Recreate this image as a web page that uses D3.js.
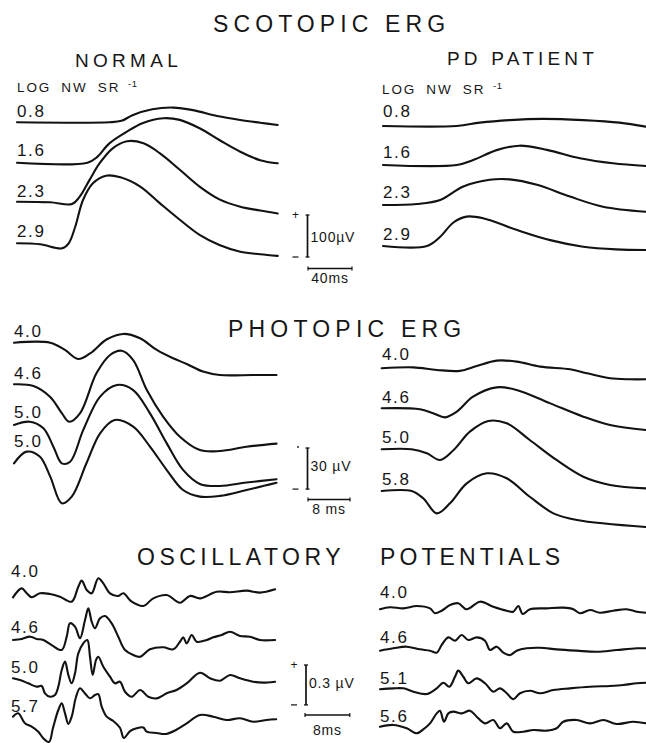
<!DOCTYPE html>
<html>
<head>
<meta charset="utf-8">
<script src="https://cdn.jsdelivr.net/npm/d3@7"></script>
<style>
  body { margin: 0; background: #fff; }
  svg { display: block; }
  text { font-family: "Liberation Sans", Arial, Helvetica, sans-serif; fill: #161616; }
</style>
</head>
<body>
<svg id="fig" width="646" height="743"></svg>
<script>
// ---------- stimulus levels (log nW sr^-1) ----------
const scotopicLevels = ["0.8", "1.6", "2.3", "2.9"];
const photopicLevelsNormal = ["4.0", "4.6", "5.0", "5.0"];
const photopicLevelsPD = ["4.0", "4.6", "5.0", "5.8"];
const oscLevelsNormal = ["4.0", "4.6", "5.0", "5.7"];
const oscLevelsPD = ["4.0", "4.6", "5.1", "5.6"];

// ---------- scotopic ERG, [time ms, amplitude µV] ----------
const scotopicNormal = [
  [[0,0],[84,0],[95,3.5],[105,17],[123,31],[142,35],[160,29],[182,15],[203,5.5],[221,-1],[237,-6.4]],
  [[0,0],[64,0],[73,14],[84,46],[100,74],[114,94],[133,106],[148,102],[166,82],[184,54],[203,26],[221,6],[237,-1.4]],
  [[0,0],[30,-1.4],[50,-5.5],[57,12],[66,52],[75,91],[87,127],[100,144],[115,139],[130,115],[148,76],[166,36],[184,5.5],[203,-12],[221,-21],[237,-28]],
  [[0,0],[21,-2.4],[41,-12],[47,0],[53,40],[60,103],[69,143],[81,161],[94,157],[112,135],[130,95],[148,56],[166,20],[184,-4],[203,-20],[221,-26],[237,-30]]
];
const scotopicPD = [
  [[0,0],[67,0],[88,8],[115,14],[145,17],[182,14],[215,8],[239,-1.6]],
  [[0,0],[67,0],[82,12],[104,36],[124,46],[149,36],[179,16],[209,4],[239,-2.4]],
  [[0,0],[31,2.4],[52,12],[73,44],[97,60],[115,61],[140,48],[170,20],[200,-4],[239,-16]],
  [[0,0],[40,0],[52,22],[64,56],[76,70],[91,66],[122,38],[152,14],[182,-1.6],[212,-8],[239,-9.5]]
];

// ---------- photopic ERG, [time ms, amplitude µV] ----------
const photopicNormal = [
  [[0,0],[6.9,0],[9.7,-5.3],[12.2,-11.9],[14.5,-7.8],[17.7,2.5],[20.8,6.4],[24,3.2],[27.2,-5.3],[30.3,-11.4],[32.9,-15.5],[36,-21.1],[39.2,-23.6],[45.5,-23.6],[50,-23.6]],
  [[0,0],[3.7,-1.2],[6.9,-9.2],[9.1,-21],[10.5,-27.3],[12.6,-21],[15.7,8],[18.3,21.4],[20.5,24.5],[22.7,17.7],[25.3,-4.2],[28.4,-23.6],[31.6,-38.3],[35.4,-48],[39.2,-48.7],[44.3,-45.6],[50,-43.3]],
  [[0,0],[3,2.4],[5.6,-2.4],[7.5,-15.8],[9.1,-28],[10.7,-26.8],[13.2,-3.6],[16.4,20.7],[19.6,29.2],[22.7,25.5],[25.9,8.5],[29.1,-13.4],[32.2,-32.8],[35.4,-43],[39.2,-44.5],[44.3,-42],[50,-39.6]],
  [[0,0],[2.4,8.5],[4.9,4.9],[6.9,-9.7],[9.1,-29.2],[11,-24.3],[13.8,0],[16.4,21.9],[19.2,31.6],[22.7,26.8],[25.9,12.2],[29.1,-4.9],[32.2,-19.5],[35.4,-24.3],[39.2,-23.8],[44.3,-19.5],[50,-14.2]]
];
const photopicPD = [
  [[0,0],[6,0.7],[10.5,-1.2],[14.9,-1.9],[18.1,1.7],[21.9,5.6],[25.7,4.9],[30.2,1.2],[35.9,-0.7],[39.1,-3.6],[43.5,-7.3],[47.3,-8],[50.3,-8]],
  [[0,0],[7.3,-0.7],[9.8,-3.6],[12.1,-6.6],[14.3,-2.5],[17.4,8.5],[21.9,15.3],[25.7,13.4],[32.1,3.6],[38.4,-6.1],[43.5,-12.2],[50.3,-15.8]],
  [[0,0],[5.7,0],[8.6,-2.9],[11.1,-7.8],[13.7,-0.5],[16.8,12.9],[20.3,20.7],[23.8,19],[28.2,6.8],[33.3,-7.8],[38.4,-20],[43.5,-26],[50.3,-28.5]],
  [[0,0],[5.7,0],[7.9,-5.3],[10.5,-16.3],[13,-9],[16.2,5.6],[20,12.9],[23.8,9.3],[28.2,-4.2],[32.7,-16.3],[37.2,-21.2],[50.3,-26.3]]
];

// ---------- oscillatory potentials, [time ms, amplitude µV] ----------
const oscNormal = [
  [[0,-0.006],[1.55,0.061],[2.45,0.024],[3.34,-0.006],[4.82,0.024],[6.61,0.019],[8.39,-0.002],[10.48,-0.039],[11.66,0.074],[12.27,0.119],[13.16,0.049],[14.05,0.024],[15.23,0.137],[16.13,0.099],[17.32,0.024],[18.8,0.004],[19.7,0.024],[21.2,-0.039],[23.27,-0.071],[25.05,-0.014],[27.45,0.011],[29.82,-0.047],[31.6,0.004],[33.4,-0.014],[36.38,0.036],[38.75,0.032],[41.73,0.044],[44.1,0.029],[46.8,0.054]],
  [[0,0],[1.55,0.008],[3.04,0.025],[4.23,0.008],[5.41,0],[6.91,-0.038],[8.7,-0.075],[9.59,0.025],[10.18,0.126],[11.07,0.1],[11.96,0.013],[12.86,0.15],[13.45,0.238],[14.05,0.138],[14.64,0.088],[15.54,0.163],[16.43,0.18],[17.63,0.125],[18.8,0.025],[20,-0.075],[21.48,-0.113],[22.68,-0.126],[24.46,-0.07],[26.84,-0.055],[28.63,-0.07],[29.82,-0.013],[30.41,0.02],[31.02,-0.025],[31.91,0.038],[32.8,-0.013],[34.6,0],[35.77,0.02],[37.27,0.038],[38.75,0.062],[40.54,0.03],[42.3,0.025],[44.1,0],[46.8,0]],
  [[0,0.013],[1.25,0],[2.73,-0.025],[4.23,-0.05],[5.13,-0.045],[5.71,-0.1],[6.61,-0.126],[7.5,-0.113],[8.09,-0.05],[8.7,0.075],[9.29,0.138],[9.88,0.038],[10.48,-0.025],[11.07,0.05],[11.66,0.2],[12.55,0.276],[13.27,0.3],[13.75,0.175],[14.23,0.038],[14.82,0.15],[15.23,0.175],[16.13,0.1],[17.32,0.025],[18.2,-0.025],[19.1,-0.013],[20,-0.088],[21.2,-0.126],[22.7,-0.075],[24.16,-0.126],[25.66,-0.138],[27.45,-0.1],[29.2,-0.075],[31.02,-0.025],[33.4,0.055],[35.2,0.013],[37,-0.005],[38.75,0.038],[40.54,0.013],[42.9,-0.013],[44.7,-0.02],[46.8,-0.013]],
  [[0,-0.005],[0.93,0.02],[2.14,-0.055],[3.34,-0.08],[4.52,-0.118],[5.36,-0.165],[6.43,-0.195],[7.14,-0.09],[8.09,0.045],[8.7,0.095],[9.29,0.02],[9.88,-0.06],[10.48,-0.005],[11.25,0.143],[11.96,0.208],[12.86,0.17],[13.75,0.133],[14.64,0.158],[15.23,0.165],[15.84,0.07],[16.73,-0.005],[17.91,-0.038],[19.1,-0.088],[19.8,-0.165],[20.9,-0.113],[22.09,-0.092],[23.27,-0.086],[23.88,-0.118],[25.66,-0.128],[27.3,-0.135],[29.1,-0.105],[31.02,-0.055],[33.4,0.008],[35.77,-0.005],[38.16,-0.03],[40.54,-0.017],[42.9,-0.043],[45.3,-0.03],[47,-0.025]]
];
const oscPD = [
  [[0,-0.002],[1.79,0.013],[4.16,0.005],[6.55,0.023],[8.93,0.005],[9.82,-0.032],[11.02,-0.013],[12.5,0.03],[13.98,0.043],[15.48,-0.002],[17.86,0.055],[20.23,0.017],[22.63,-0.013],[23.8,-0.02],[24.7,0.023],[25.48,-0.038],[26.79,-0.002],[29.77,0.005],[32.73,0.01],[34.52,-0.002],[35.71,-0.032],[37.5,-0.008],[39.29,-0.028],[41.66,-0.013],[44.05,-0.002],[45.84,-0.02],[47.5,-0.028]],
  [[0,-0.005],[2.38,0.013],[4.77,0.025],[7.14,0.005],[8.93,-0.005],[10.13,-0.02],[11.02,0.038],[12.2,0.095],[13.39,0.07],[14.59,0.113],[15.77,0.075],[17.27,0.095],[18.75,0.07],[19.64,0],[20.84,0.025],[22.02,-0.02],[23.21,-0.038],[24.41,-0.005],[26.2,0.013],[28.57,0.017],[31.55,0.005],[35.13,-0.005],[38.7,-0.013],[42.27,0],[45.84,0.013],[47.5,0.013]],
  [[0,-0.002],[2.38,0.005],[4.16,0.005],[5.95,-0.02],[8.34,-0.038],[10.13,0.005],[11.3,0.047],[12.38,0.017],[13.39,0.092],[13.98,0.138],[14.88,0.092],[15.77,0.043],[17.27,0.08],[18.75,0.043],[20.23,-0.02],[21.43,0.005],[22.63,-0.032],[23.8,-0.077],[25,-0.032],[26.79,-0.013],[28.57,-0.032],[30.95,-0.008],[33.93,0.005],[37.5,0.017],[41.07,0.023],[43.45,0.03],[45.84,0.043],[47.5,0.047]],
  [[0,-0.005],[2.38,0.008],[4.77,-0.017],[6.55,-0.055],[7.73,-0.025],[8.93,0.02],[10.13,0.095],[10.71,0.115],[11.43,0.032],[12.2,0.095],[13.09,0.108],[14.59,0.095],[16.07,0.115],[17.27,0.07],[18.75,0.02],[20.23,0.045],[21.43,-0.017],[22.63,0.02],[23.8,-0.043],[25.59,-0.043],[27.38,-0.03],[29.77,-0.035],[31.55,-0.017],[32.73,0.032],[35.13,0.045],[37.5,0.02],[39.88,0.045],[42.27,0.015],[45.23,0.032],[47.5,0.02]]
];

// calibration bars
const scotopicCal = { ms: 40, uv: 100, timeText: "40ms", ampText: "100µV" };
const photopicCal = { ms: 8, uv: 30, timeText: "8 ms", ampText: "30 µV" };
const oscCal = { ms: 8, uv: 0.3, timeText: "8ms", ampText: "0.3 µV" };

// ---------- layout ----------
const svg = d3.select("#fig");
const INK = "#121212";

// each block: time scale (px per ms), amplitude scale (px per µV), trace origins
const blocks = [
  { traces: scotopicNormal, levels: scotopicLevels, x0: 17, pxMs: 1.1, pxUv: 0.42,
    bases: [122.3, 162.7, 201.7, 243.3], labelY: [117, 156, 197, 237], labelX: 17 },
  { traces: scotopicPD, levels: scotopicLevels, x0: 383, pxMs: 1.1, pxUv: 0.42,
    bases: [126, 165, 205, 246], labelY: [117, 158, 198, 240], labelX: 383 },
  { traces: photopicNormal, levels: photopicLevelsNormal, x0: 14, pxMs: 5.25, pxUv: 1.37,
    bases: [342.7, 384.3, 425, 463.3], labelY: [337, 379, 418, 447], labelX: 14 },
  { traces: photopicPD, levels: photopicLevelsPD, x0: 381.7, pxMs: 5.25, pxUv: 1.37,
    bases: [368.3, 408.3, 449.3, 491], labelY: [360, 403, 443, 485], labelX: 382 },
  { traces: oscNormal, levels: oscLevelsNormal, x0: 13, pxMs: 5.6, pxUv: 133,
    bases: [596.5, 640, 680, 716], labelY: [577, 633, 673, 712], labelX: 11 },
  { traces: oscPD, levels: oscLevelsPD, x0: 380, pxMs: 5.6, pxUv: 133,
    bases: [609, 650, 689, 726], labelY: [598, 643, 684, 722], labelX: 380 }
];

blocks.forEach(b => {
  const x = d3.scaleLinear().domain([0, 1]).range([b.x0, b.x0 + b.pxMs]);
  b.x = x;
  b.traces.forEach((tr, i) => {
    const y = d3.scaleLinear().domain([0, 1]).range([b.bases[i], b.bases[i] - b.pxUv]);
    const line = d3.line()
      .x(d => x(d[0]))
      .y(d => y(d[1]))
      .curve(d3.curveCatmullRom.alpha(0.5));
    svg.append("path")
      .attr("d", line(tr))
      .attr("fill", "none")
      .attr("stroke", INK)
      .attr("stroke-width", 2.1)
      .attr("stroke-linejoin", "round")
      .attr("stroke-linecap", "round");
    svg.append("text")
      .attr("x", b.labelX)
      .attr("y", b.labelY[i])
      .attr("font-size", 17)
      .attr("letter-spacing", 1.6)
      .text(b.levels[i]);
  });
});

// ---------- titles ----------
function title(str, x, y, size, spacing) {
  svg.append("text").attr("x", x).attr("y", y)
    .attr("font-size", size).attr("letter-spacing", spacing).text(str);
}
title("SCOTOPIC ERG", 213, 32, 23, 5.1);
title("NORMAL", 75, 67, 19, 4.3);
title("PD PATIENT", 447, 65, 19, 4.2);
title("PHOTOPIC ERG", 228, 337, 23, 5.2);
title("OSCILLATORY", 137, 565, 23, 4.5);
title("POTENTIALS", 380, 565, 23, 4.1);

function unitsLabel(x, y) {
  const t = svg.append("text").attr("x", x).attr("y", y)
    .attr("font-size", 13.5).attr("letter-spacing", 1.9).attr("word-spacing", 4.5);
  t.append("tspan").text("LOG NW SR");
  t.append("tspan").attr("dy", -5).attr("font-size", 9.5).attr("letter-spacing", 0.6).text(" -1");
}
unitsLabel(17, 92);
unitsLabel(382, 94);

// ---------- calibration bars ----------
function calibration(b, cal, o) {
  const vx = o.vx;
  const len = b.x(cal.ms) - b.x(0);
  const ampScale = d3.scaleLinear().domain([0, 1]).range([0, b.pxUv]);
  const h = ampScale(cal.uv);
  const g = svg.append("g").attr("stroke", INK).attr("fill", "none");
  g.append("line").attr("x1", vx).attr("x2", vx).attr("y1", o.top).attr("y2", o.top + h).attr("stroke-width", 1.7);
  g.append("line").attr("x1", vx - 2).attr("x2", vx + 2).attr("y1", o.top).attr("y2", o.top).attr("stroke-width", 1.3);
  g.append("line").attr("x1", vx - 2).attr("x2", vx + 2).attr("y1", o.top + h).attr("y2", o.top + h).attr("stroke-width", 1.3);
  // time bar
  g.append("line").attr("x1", o.hx).attr("x2", o.hx + len).attr("y1", o.hy).attr("y2", o.hy).attr("stroke-width", 1.6);
  g.append("line").attr("x1", o.hx).attr("x2", o.hx).attr("y1", o.hy - 2).attr("y2", o.hy + 2).attr("stroke-width", 1.2);
  g.append("line").attr("x1", o.hx + len).attr("x2", o.hx + len).attr("y1", o.hy - 2).attr("y2", o.hy + 2).attr("stroke-width", 1.2);
  // polarity marks
  if (o.plus) svg.append("text").attr("x", vx - 12).attr("y", o.top + 4).attr("font-size", 12).attr("text-anchor", "middle").text("+");
  g.append("line").attr("x1", vx - 15).attr("x2", vx - 9).attr("y1", o.top + h).attr("y2", o.top + h).attr("stroke-width", 1.2);
  svg.append("text").attr("x", vx + 3).attr("y", o.ampY).attr("font-size", 14).attr("letter-spacing", 0.8).text(cal.ampText);
  svg.append("text").attr("x", o.hx + len / 2).attr("y", o.timeY).attr("font-size", 14)
    .attr("letter-spacing", 0.8).attr("text-anchor", "middle").text(cal.timeText);
}
calibration(blocks[0], scotopicCal, { vx: 307.5, top: 215, hx: 308, hy: 268.5, ampY: 242, timeY: 283, plus: true });
calibration(blocks[2], photopicCal, { vx: 307.5, top: 448, hx: 308, hy: 499.5, ampY: 470.5, timeY: 514, plus: false });
svg.append("circle").attr("cx", 298).attr("cy", 447).attr("r", 0.9).attr("fill", INK);
calibration(blocks[4], oscCal, { vx: 306, top: 665, hx: 305, hy: 715, ampY: 688, timeY: 735, plus: true });
</script>
</body>
</html>
